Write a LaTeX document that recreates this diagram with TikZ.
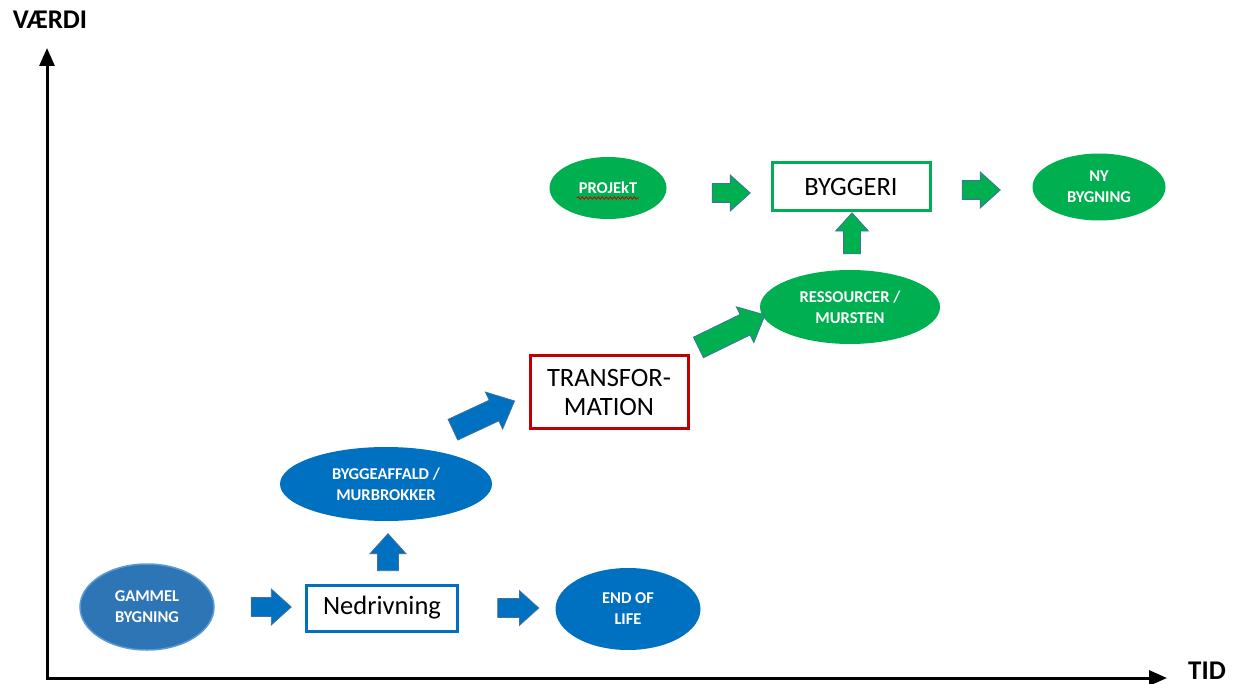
\documentclass[tikz,border=0pt]{standalone}
\usepackage{fontspec}
\setmainfont{Carlito}
\usepackage{tikz}
\usetikzlibrary{positioning, arrows.meta, shapes.geometric, shapes.arrows, decorations.pathmorphing}

\definecolor{oldblue}{HTML}{2E75B6}
\definecolor{edgeblue}{HTML}{5B9BD5}
\definecolor{wasteblue}{HTML}{0070C0}
\definecolor{newgreen}{HTML}{00B050}
\definecolor{transred}{HTML}{C00000}
\definecolor{arrowedge}{HTML}{41719C}

\begin{document}
\begin{tikzpicture}[
    x=1pt, y=-1pt,
    blob/.style={ellipse, inner sep=0pt, align=center, text=white, font=\fontsize{16.5}{21}\selectfont\bfseries},
    bluebl/.style={blob, fill=wasteblue},
    greenbl/.style={blob, fill=newgreen},
    stage/.style={draw, line width=3pt, fill=white, align=center, inner sep=0pt, font=\fontsize{26.5}{29}\selectfont},
    fat/.style={single arrow, draw=arrowedge, line width=0.8pt, inner xsep=0pt, inner ysep=9pt, single arrow head extend=8.5pt, single arrow tip angle=84, minimum height=39pt},
    bluefat/.style={fat, fill=wasteblue},
    greenfat/.style={fat, fill=newgreen},
    axis/.style={line width=3pt, {Triangle[length=18pt, width=15pt]}-{Triangle[length=18pt, width=15pt]}},
    axlbl/.style={inner sep=0pt, font=\fontsize{27}{30}\selectfont\bfseries},
]
\useasboundingbox (0,0) rectangle (1238,684);

% === Axes ===
\coordinate (origin) at (47,678);
\coordinate (vtop) at (47,48);
\coordinate (hend) at (1167,678);
\draw[axis] (vtop) -- (origin) -- (hend);
\node[axlbl] (vaerdi) at (50,20) {VÆRDI};
\node[axlbl] (tid) at (1207,671) {TID};

% === Bottom row: old building ===
\node[blob, fill=oldblue, draw=edgeblue, line width=1.5pt, minimum width=134pt, minimum height=86pt] (gammel) at (147,607) {GAMMEL\\BYGNING};
\node[stage, draw=wasteblue, minimum width=151pt, minimum height=46pt] (nedriv) at (382,608) {Nedrivning};
\node[bluebl, minimum width=145pt, minimum height=82pt] (eol) at (628,609) {END OF\\LIFE};
\node[bluebl, minimum width=212pt, minimum height=74pt] (affald) at (386,484) {BYGGEAFFALD /\\MURBROKKER};

% === Middle: transformation ===
\node[stage, draw=transred, minimum width=158pt, minimum height=73pt] (transf) at (609,392) {TRANSFOR-\\MATION};
\node[greenbl, minimum width=180pt, minimum height=74pt] (ress) at (850,307) {RESSOURCER /\\MURSTEN};

% === Top row: new building ===
\node[greenbl, minimum width=117pt, minimum height=62pt] (projekt) at (608,188) {PROJEkT};
\node[stage, draw=newgreen, minimum width=158pt, minimum height=48pt] (byggeri) at (851,187) {BYGGERI};
\node[greenbl, minimum width=133pt, minimum height=67pt] (nybyg) at (1099,187) {NY\\BYGNING};

% spell-check squiggle
\draw[red!80!black, line width=0.8pt, decorate, decoration={snake, amplitude=1.2pt, segment length=4pt}]
    ([shift={(-31,10)}]projekt.center) -- ([shift={(31,10)}]projekt.center);

% === Block arrows ===
\node[bluefat, minimum height=40pt] (g2n) at (266,607) {};
\node[bluefat, rotate=90, minimum height=37pt, inner ysep=10pt, single arrow head extend=7.5pt] (n2a) at (388,558) {};
\node[bluefat, minimum height=41pt, single arrow head extend=8pt] (n2e) at (513,608) {};
\node[bluefat, rotate=25, minimum height=68pt, inner ysep=11pt, single arrow head extend=9pt] (a2t) at (478,418) {};
\node[greenfat, rotate=26, minimum height=74pt, inner ysep=11pt, single arrow head extend=8.5pt] (t2r) at (726,334) {};
\node[greenfat, rotate=90, minimum height=41pt, inner ysep=8pt, single arrow head extend=8pt] (r2b) at (852,238) {};
\node[greenfat, minimum height=38pt] (p2b) at (726,193) {};
\node[greenfat, minimum height=38pt] (b2n) at (976,190) {};

\end{tikzpicture}
\end{document}
